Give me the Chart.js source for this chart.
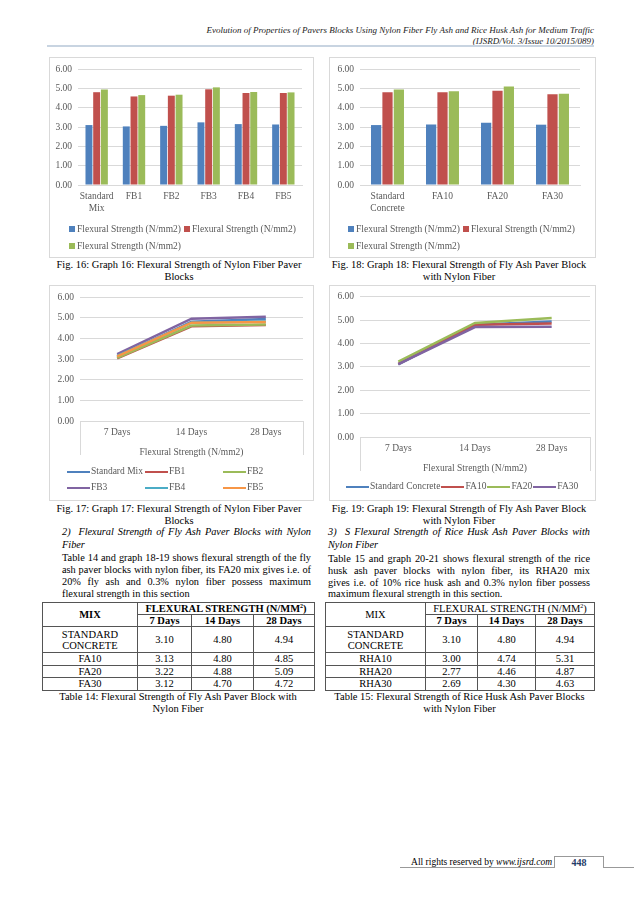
<!DOCTYPE html>
<html>
<head>
<meta charset="utf-8">
<title>Flexural Strength of Paver Blocks</title>
<script src="https://cdn.jsdelivr.net/npm/chart.js@4.4.1/dist/chart.umd.min.js"></script>
<style>
  html, body { margin: 0; padding: 0; background: #fff; }
  body { width: 638px; height: 903px; position: relative; overflow: hidden;
         font-family: "Liberation Serif", "Times New Roman", serif; color: #000; }
  .t { position: absolute; white-space: nowrap; font-size: 10.5px; line-height: 12px; }
  .hdr { font-style: italic; font-size: 9px; color: #222; text-align: right; }
  .c { text-align: center; }
  .p { font-size: 10.3px; white-space: normal; text-align: justify; text-align-last: justify; }
  .p.last { text-align-last: left; }
  .i { font-style: italic; }
  .frame { position: absolute; border: 1px solid #d9d9d9; box-sizing: border-box; }
  .plot { position: absolute; }
  .lg { position: absolute; font-size: 9.5px; color: #595959; }
  .lg .it { display: inline-block; white-space: nowrap; }
  .lg .mk { display: inline-block; vertical-align: middle; }
  table.tb { position: absolute; border-collapse: collapse; table-layout: fixed; font-size: 10.5px; }
  table.tb td { border: 1px solid #555; padding: 0; text-align: center; line-height: 11px; }
  table.tb td.b { font-weight: bold; }
  table.tb sup { font-size: 6px; line-height: 0; }
</style>
</head>
<body>

<!-- page header -->
<div class="t hdr" style="right:44px;top:24px">Evolution of Properties of Pavers Blocks Using Nylon Fiber Fly Ash and Rice Husk Ash for Medium Traffic</div>
<div class="t hdr" style="right:44px;top:35px">(IJSRD/Vol. 3/Issue 10/2015/089)</div>
<div style="position:absolute;left:47px;top:45px;width:547px;height:2px;background:#c8d4e1"></div>

<!-- chart frames -->
<div class="frame" style="left:49px;top:57px;width:265px;height:201px"></div>
<div class="frame" style="left:329px;top:57px;width:267px;height:201px"></div>
<div class="frame" style="left:49px;top:285px;width:265px;height:216px"></div>
<div class="frame" style="left:329px;top:285px;width:267px;height:216px"></div>

<div class="plot" style="left:49px;top:57px;width:265px;height:201px"><canvas id="graph16"></canvas></div>
<div class="plot" style="left:329px;top:57px;width:267px;height:201px"><canvas id="graph18"></canvas></div>
<div class="plot" style="left:49px;top:285px;width:265px;height:215px"><canvas id="graph17"></canvas></div>
<div class="plot" style="left:329px;top:285px;width:267px;height:215px"><canvas id="graph19"></canvas></div>

<!-- figure captions -->
<div class="t c" style="left:45px;width:268px;top:259px">Fig. 16: Graph 16: Flexural Strength of Nylon Fiber Paver</div>
<div class="t c" style="left:45px;width:268px;top:271px">Blocks</div>
<div class="t c" style="left:327px;width:264px;top:259px">Fig. 18: Graph 18: Flexural Strength of Fly Ash Paver Block</div>
<div class="t c" style="left:327px;width:264px;top:271px">with Nylon Fiber</div>

<div class="t c" style="left:45px;width:268px;top:503px">Fig. 17: Graph 17: Flexural Strength of Nylon Fiber Paver</div>
<div class="t c" style="left:45px;width:268px;top:515px">Blocks</div>
<div class="t c" style="left:327px;width:264px;top:503px">Fig. 19: Graph 19: Flexural Strength of Fly Ash Paver Block</div>
<div class="t c" style="left:327px;width:264px;top:515px">with Nylon Fiber</div>

<!-- left column text -->
<div class="t p i" style="left:62px;width:249px;top:526px">2)&nbsp; Flexural Strength of Fly Ash Paver Blocks with Nylon</div>
<div class="t p i last" style="left:62px;width:249px;top:539px">Fiber</div>
<div class="t p" style="left:62px;width:249px;top:552px">Table 14 and graph 18-19 shows flexural strength of the fly</div>
<div class="t p" style="left:62px;width:249px;top:564px">ash paver blocks with nylon fiber, its FA20 mix gives i.e. of</div>
<div class="t p" style="left:62px;width:249px;top:576px">20% fly ash and 0.3% nylon fiber possess maximum</div>
<div class="t p last" style="left:62px;width:249px;top:588px">flexural strength in this section</div>

<!-- right column text -->
<div class="t p i" style="left:328px;width:262px;top:526px">3)&nbsp; S Flexural Strength of Rice Husk Ash Paver Blocks with</div>
<div class="t p i last" style="left:328px;width:262px;top:539px">Nylon Fiber</div>
<div class="t p" style="left:328px;width:262px;top:553px">Table 15 and graph 20-21 shows flexural strength of the rice</div>
<div class="t p" style="left:328px;width:262px;top:565px">husk ash paver blocks with nylon fiber, its RHA20 mix</div>
<div class="t p" style="left:328px;width:262px;top:577px">gives i.e. of 10% rice husk ash and 0.3% nylon fiber possess</div>
<div class="t p last" style="left:328px;width:262px;top:588px">maximum flexural strength in this section.</div>

<!-- tables -->
<table class="tb" id="table14" style="left:42px;top:602px;width:272px"></table>
<table class="tb" id="table15" style="left:325px;top:602px;width:269px"></table>

<div class="t c" style="left:42px;width:272px;top:691px">Table 14: Flexural Strength of Fly Ash Paver Block with</div>
<div class="t c" style="left:42px;width:272px;top:703px">Nylon Fiber</div>
<div class="t c" style="left:325px;width:269px;top:691px">Table 15: Flexural Strength of Rice Husk Ash Paver Blocks</div>
<div class="t c" style="left:325px;width:269px;top:703px">with Nylon Fiber</div>

<!-- footer -->
<div class="t" style="right:86px;top:856px;font-size:9.5px">All rights reserved by <i>www.ijsrd.com</i></div>
<div style="position:absolute;left:400px;top:867px;width:154px;height:1px;background:#999"></div>
<div style="position:absolute;left:604px;top:867px;width:30px;height:1px;background:#999"></div>
<div style="position:absolute;left:554px;top:856px;width:50px;height:12px;border:1px solid #999;border-bottom:none;box-sizing:border-box"></div>
<div class="t c" style="left:554px;width:50px;top:857px;font-size:10px;font-weight:bold;color:#1f3a68">448</div>

<script>
// --- data: Graph 16 / 17 (nylon fiber mixes) ---
const fbMixes = ['Standard Mix', 'FB1', 'FB2', 'FB3', 'FB4', 'FB5'];
const fbDay7  = [3.10, 3.03, 3.06, 3.24, 3.15, 3.13];
const fbDay14 = [4.80, 4.58, 4.62, 4.95, 4.76, 4.76];
const fbDay28 = [4.94, 4.65, 4.67, 5.05, 4.81, 4.79];

// --- data: Graph 18 / 19 and Table 14 (fly ash mixes) ---
const faMixes = ['Standard Concrete', 'FA10', 'FA20', 'FA30'];
const faDay7  = [3.10, 3.13, 3.22, 3.12];
const faDay14 = [4.80, 4.80, 4.88, 4.70];
const faDay28 = [4.94, 4.85, 5.09, 4.72];

// --- data: Table 15 (rice husk ash mixes) ---
const rhaMixes = ['Standard Concrete', 'RHA10', 'RHA20', 'RHA30'];
const rhaDay7  = [3.10, 3.00, 2.77, 2.69];
const rhaDay14 = [4.80, 4.74, 4.46, 4.30];
const rhaDay28 = [4.94, 5.31, 4.87, 4.63];

const ageLabels = ['7 Days', '14 Days', '28 Days'];
const yTicks = [0, 1, 2, 3, 4, 5, 6];
const seriesLabel = 'Flexural Strength (N/mm2)';
const palette = ['#4F81BD', '#C0504D', '#9BBB59', '#8064A2', '#4BACC6', '#F79646'];

const tickFont = { family: "'Liberation Serif', 'Times New Roman', serif", size: 9.5 };
const tickColor = '#595959';
const gridColor = '#d9d9d9';

// vertical lines under the category axis (Excel draws the axis as an open box)
const categoryFrame = {
    id: 'categoryFrame',
    afterDraw(chart, args, opts) {
        if (!opts.depth) return;
        const { ctx, chartArea } = chart;
        ctx.save();
        ctx.strokeStyle = gridColor;
        ctx.lineWidth = 1;
        ctx.beginPath();
        [chartArea.left, chartArea.right].forEach(x => {
            const px = Math.round(x) + 0.5;
            ctx.moveTo(px, chartArea.bottom);
            ctx.lineTo(px, chartArea.bottom + opts.depth);
        });
        ctx.stroke();
        ctx.restore();
    }
};

function yScale(width) {
    return {
        min: 0,
        max: 6,
        afterBuildTicks: s => { s.ticks = yTicks.map(v => ({ value: v })); },
        afterFit: s => { s.width = width; },
        ticks: { font: tickFont, color: tickColor, padding: 6, callback: v => Number(v).toFixed(2) },
        grid: { color: gridColor, drawTicks: false },
        border: { display: false }
    };
}

// legend drawn as html so it can sit where Excel put it
function htmlLegend(left, top, width, rowHeight, names, colors, marker, itemWidth) {
    const box = document.createElement('div');
    box.className = 'lg';
    box.style.left = left + 'px';
    box.style.top = top + 'px';
    box.style.width = width + 'px';
    box.style.lineHeight = rowHeight + 'px';
    names.forEach((name, i) => {
        const it = document.createElement('span');
        it.className = 'it';
        if (itemWidth) it.style.width = itemWidth + 'px';
        else it.style.marginRight = marker === 'box' ? '3px' : '1px';
        const mk = document.createElement('span');
        mk.className = 'mk';
        mk.style.background = colors[i];
        if (marker === 'box') {
            mk.style.width = '6px'; mk.style.height = '6px'; mk.style.marginRight = '2px';
        } else {
            mk.style.width = '23px'; mk.style.height = '2.5px'; mk.style.marginRight = '1px';
        }
        it.appendChild(mk);
        it.appendChild(document.createTextNode(name));
        box.appendChild(it);
    });
    document.body.appendChild(box);
}

// --- bar charts (Graph 16, Graph 18) ---
function barChart(id, mixes, d7, d14, d28, yWidth, padRight) {
    new Chart(document.getElementById(id), {
        type: 'bar',
        data: {
            labels: mixes,
            datasets: [d7, d14, d28].map((d, i) => ({
                label: seriesLabel,
                data: d,
                backgroundColor: palette[i],
                categoryPercentage: 0.62,
                barPercentage: 0.9
            }))
        },
        options: {
            responsive: true,
            maintainAspectRatio: false,
            animation: false,
            layout: { padding: { left: 0, right: padRight, top: 12, bottom: 41 } },
            scales: {
                x: {
                    afterFit: s => { s.height = 32; },
                    ticks: {
                        font: tickFont, color: tickColor, padding: 6, maxRotation: 0, autoSkip: false,
                        callback: function (v) { return this.getLabelForValue(v).split(' '); }
                    },
                    grid: { display: false, drawTicks: false },
                    border: { color: gridColor }
                },
                y: yScale(yWidth)
            },
            plugins: { legend: { display: false }, tooltip: { enabled: false } }
        }
    });
}

// --- line charts (Graph 17, Graph 19) ---
function lineChart(id, mixes, d7, d14, d28, padding) {
    new Chart(document.getElementById(id), {
        type: 'line',
        data: {
            labels: ageLabels,
            datasets: mixes.map((m, i) => ({
                label: m,
                data: [d7[i], d14[i], d28[i]],
                borderColor: palette[i],
                backgroundColor: palette[i],
                borderWidth: 2.5,
                pointRadius: 0,
                tension: 0,
                order: mixes.length - i
            }))
        },
        plugins: [categoryFrame],
        options: {
            responsive: true,
            maintainAspectRatio: false,
            animation: false,
            layout: { padding: padding },
            scales: {
                x: {
                    offset: true,
                    ticks: { font: tickFont, color: tickColor, padding: 5.3 },
                    grid: { display: false, drawTicks: false },
                    border: { color: gridColor },
                    title: {
                        display: true, text: seriesLabel, font: tickFont, color: tickColor,
                        padding: { top: 3.6, bottom: 4 }
                    }
                },
                y: yScale(31)
            },
            plugins: {
                categoryFrame: { depth: 34 },
                legend: { display: false },
                tooltip: { enabled: false }
            }
        }
    });
}

barChart('graph16', fbMixes, fbDay7, fbDay14, fbDay28, 29, 12);
barChart('graph18', faMixes, faDay7, faDay14, faDay28, 31, 16);

lineChart('graph17', fbMixes, fbDay7, fbDay14, fbDay28, { left: 0, right: 11, top: 12, bottom: 38 });
lineChart('graph19', faMixes, faDay7, faDay14, faDay28, { left: 0, right: 6, top: 11, bottom: 22 });

const barNames = [seriesLabel, seriesLabel, seriesLabel];
htmlLegend(69, 220.5, 240, 17, barNames, palette, 'box');
htmlLegend(348, 220.5, 240, 17, barNames, palette, 'box');
htmlLegend(67, 463, 240, 16, fbMixes, palette, 'line', 78);
htmlLegend(346, 478, 262, 16, faMixes, palette, 'line');

// --- tables ---
function buildTable(id, mixes, d7, d14, d28, colWidths, boldHead) {
    const b = boldHead ? ' class="b"' : '';
    let html = '<colgroup>' + colWidths.map(w => '<col style="width:' + w + 'px">').join('') + '</colgroup>';
    html += '<tr style="height:12px"><td rowspan="2"' + b + '>MIX</td>' +
            '<td colspan="3"' + b + '>FLEXURAL STRENGTH (N/MM<sup>2</sup>)</td></tr>';
    html += '<tr style="height:12px">' + ageLabels.map(a => '<td class="b">' + a + '</td>').join('') + '</tr>';
    mixes.forEach((m, i) => {
        const h = i === 0 ? 26 : 12.5;
        html += '<tr style="height:' + h + 'px"><td>' + m.toUpperCase() + '</td><td>' + d7[i].toFixed(2) +
                '</td><td>' + d14[i].toFixed(2) + '</td><td>' + d28[i].toFixed(2) + '</td></tr>';
    });
    document.getElementById(id).innerHTML = html;
}

buildTable('table14', faMixes, faDay7, faDay14, faDay28, [95, 54, 62, 61], true);
buildTable('table15', rhaMixes, rhaDay7, rhaDay14, rhaDay28, [100, 52, 58, 59], false);
</script>
</body>
</html>
